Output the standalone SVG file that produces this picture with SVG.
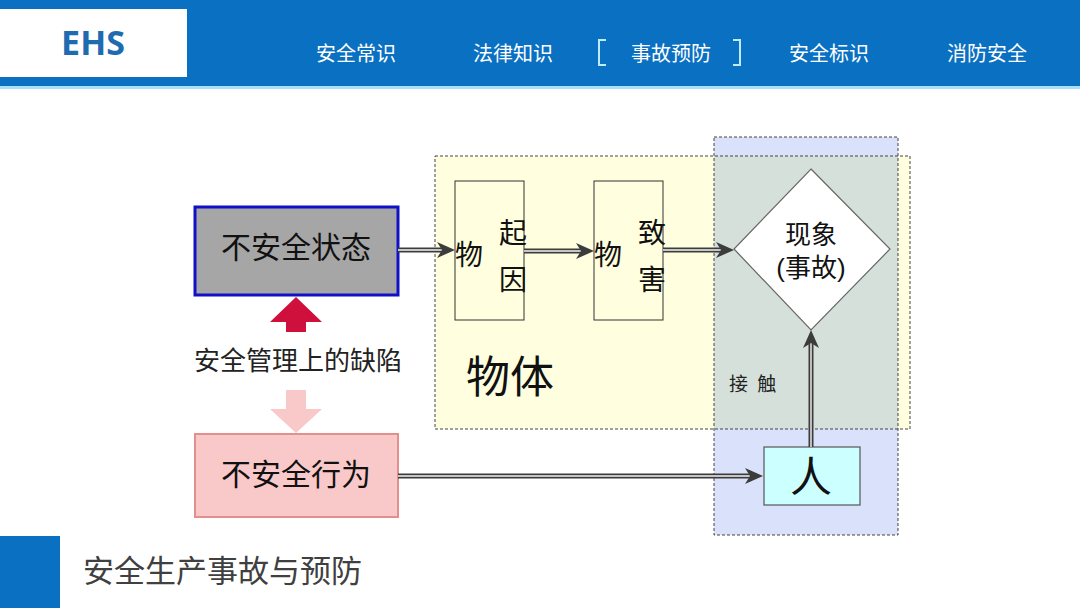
<svg xmlns="http://www.w3.org/2000/svg" width="1080" height="608" viewBox="0 0 1080 608">
<style>
.cn{font-family:"Liberation Sans","Noto Sans CJK SC",sans-serif}
.nav{font-size:20px;fill:#ffffff;text-anchor:middle}
.dark{fill:#111111}
.o{stroke:#3c3c3c;stroke-width:5;fill:none}
.i{stroke:#f4f4f4;stroke-width:1.4;fill:none}
.hd{fill:#3c3c3c}
.reg{stroke:#444;stroke-width:1;stroke-dasharray:3 2;fill:none}
</style>
<rect width="1080" height="608" fill="#ffffff"/>
<g id="header">
<rect x="0" y="0" width="1080" height="87" fill="#0A70C2"/>
<rect x="0" y="86" width="1080" height="3" fill="#A5E2F7"/>
<rect x="0" y="9" width="187" height="68" fill="#ffffff"/>
<text x="93" y="55" text-anchor="middle" font-family="'Open Sans','Liberation Sans',sans-serif" font-weight="bold" font-size="34" fill="#1F6BB0">EHS</text>
<text class="cn nav" x="356" y="61">安全常识</text>
<text class="cn nav" x="513" y="61">法律知识</text>
<text class="cn nav" x="671" y="61">事故预防</text>
<text class="cn nav" x="829" y="61">安全标识</text>
<text class="cn nav" x="987" y="61">消防安全</text>
<path d="M606,40 H599 V65 H606 M733,40 H740 V65 H733" fill="none" stroke="#BFEAFF" stroke-width="2"/>
</g>
<g id="footer">
<rect x="0" y="536" width="60" height="72" fill="#0A70C2"/>
<text class="cn" x="83" y="582" font-size="31" fill="#404040">安全生产事故与预防</text>
</g>
<g id="regions">
<rect x="435" y="156" width="475" height="273" fill="#FFFFE0"/>
<rect x="714" y="137" width="184" height="398" fill="#DAE2FB"/>
<rect x="714" y="156" width="184" height="273" fill="#D6E0DB"/>
<rect class="reg" x="435" y="156" width="475" height="273"/>
<rect class="reg" x="714" y="137" width="184" height="398"/>
</g>
<g id="unsafe-state">
<rect x="195" y="207" width="203" height="88" fill="#A6A6A6" stroke="#1010C8" stroke-width="3"/>
<text class="cn dark" x="296" y="258" font-size="30" text-anchor="middle">不安全状态</text>
</g>
<g id="mgmt-defect">
<polygon points="296,297 322,322 306,322 306,332 286,332 286,322 270,322" fill="#D0103C"/>
<text class="cn" x="298" y="370" font-size="26" text-anchor="middle" fill="#222">安全管理上的缺陷</text>
<polygon points="286,390 306,390 306,409 322,409 296,433 270,409 286,409" fill="#F9C9C9"/>
</g>
<g id="unsafe-act">
<rect x="195" y="434" width="203" height="83" fill="#F9C9C9" stroke="#E58E8E" stroke-width="2"/>
<text class="cn dark" x="296" y="485" font-size="30" text-anchor="middle">不安全行为</text>
</g>
<g id="cause-object">
<rect x="455" y="181" width="69" height="139" fill="#FFFFE0" stroke="#333" stroke-width="1"/>
<text class="cn dark" x="469" y="265" font-size="28" text-anchor="middle">物</text>
<text class="cn dark" x="513" y="243" font-size="28" text-anchor="middle">起</text>
<text class="cn dark" x="513" y="290" font-size="28" text-anchor="middle">因</text>
</g>
<g id="harm-object">
<rect x="594" y="181" width="69" height="139" fill="#FFFFE0" stroke="#333" stroke-width="1"/>
<text class="cn dark" x="608" y="265" font-size="28" text-anchor="middle">物</text>
<text class="cn dark" x="652" y="243" font-size="28" text-anchor="middle">致</text>
<text class="cn dark" x="652" y="290" font-size="28" text-anchor="middle">害</text>
</g>
<g id="object-label">
<text class="cn dark" x="466" y="393" font-size="44">物体</text>
</g>
<g id="accident">
<polygon points="811,169 890,249 811,330 734,249" fill="#ffffff" stroke="#666" stroke-width="1.2"/>
<text class="cn dark" x="811" y="244" font-size="26" text-anchor="middle">现象</text>
<text class="cn dark" x="811" y="277" font-size="26" text-anchor="middle">(事故)</text>
</g>
<g id="contact-label">
<text class="cn" x="729" y="391" font-size="19" fill="#222" letter-spacing="2">接 触</text>
</g>
<g id="person">
<rect x="764" y="447" width="96" height="58" fill="#CCFFFF" stroke="#555" stroke-width="1.2"/>
<text class="cn dark" x="811" y="492" font-size="42" text-anchor="middle">人</text>
</g>
<g id="connectors">
<line class="o" x1="398" y1="250" x2="442" y2="250"/><line class="i" x1="398" y1="250" x2="442" y2="250"/>
<polygon class="hd" points="455,250 437,242 442,250 437,258"/>
<line class="o" x1="524" y1="251" x2="581" y2="251"/><line class="i" x1="524" y1="251" x2="581" y2="251"/>
<polygon class="hd" points="594,251 576,243 581,251 576,259"/>
<line class="o" x1="663" y1="250" x2="721" y2="250"/><line class="i" x1="663" y1="250" x2="721" y2="250"/>
<polygon class="hd" points="734,250 716,242 721,250 716,258"/>
<line class="o" x1="398" y1="476" x2="750" y2="476"/><line class="i" x1="398" y1="476" x2="750" y2="476"/>
<polygon class="hd" points="763,476 745,468 750,476 745,484"/>
<line class="o" x1="811" y1="447" x2="811" y2="343"/><line class="i" x1="811" y1="447" x2="811" y2="343"/>
<polygon class="hd" points="811,330 803,348 811,343 819,348"/>
</g>
</svg>
